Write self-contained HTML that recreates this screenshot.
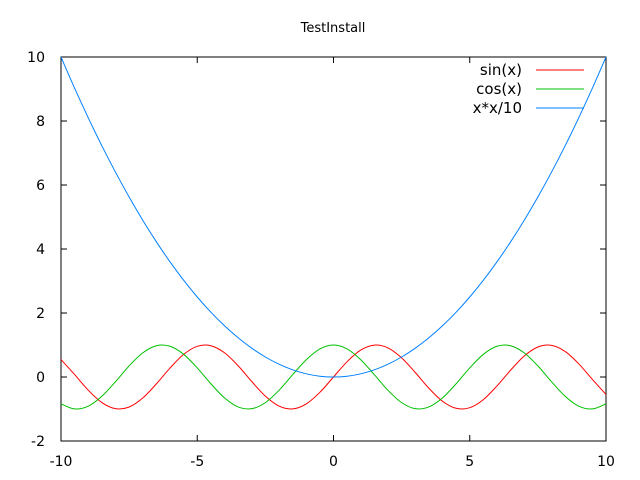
<!DOCTYPE html>
<html><head><meta charset="utf-8"><style>
body{margin:0;background:#fff}
svg{display:block;font-family:"DejaVu Sans","Liberation Sans",sans-serif}
</style></head><body>
<svg id="c" width="640" height="480"></svg>
<script>
const xValues=[-10,-9.5,-9,-8.5,-8,-7.5,-7,-6.5,-6,-5.5,-5,-4.5,-4,-3.5,-3,-2.5,-2,-1.5,-1,-0.5,0,0.5,1,1.5,2,2.5,3,3.5,4,4.5,5,5.5,6,6.5,7,7.5,8,8.5,9,9.5,10];
const sinValues=[0.544,0.075,-0.412,-0.798,-0.989,-0.938,-0.657,-0.215,0.279,0.706,0.959,0.978,0.757,0.351,-0.141,-0.598,-0.909,-0.997,-0.841,-0.479,0,0.479,0.841,0.997,0.909,0.598,0.141,-0.351,-0.757,-0.978,-0.959,-0.706,-0.279,0.215,0.657,0.938,0.989,0.798,0.412,-0.075,-0.544];
const cosValues=[-0.839,-0.997,-0.911,-0.602,-0.146,0.347,0.754,0.977,0.960,0.709,0.284,-0.211,-0.654,-0.936,-0.990,-0.801,-0.416,0.071,0.540,0.878,1,0.878,0.540,0.071,-0.416,-0.801,-0.990,-0.936,-0.654,-0.211,0.284,0.709,0.960,0.977,0.754,0.347,-0.146,-0.602,-0.911,-0.997,-0.839];
const sqValues=[10,9.025,8.1,7.225,6.4,5.625,4.9,4.225,3.6,3.025,2.5,2.025,1.6,1.225,0.9,0.625,0.4,0.225,0.1,0.025,0,0.025,0.1,0.225,0.4,0.625,0.9,1.225,1.6,2.025,2.5,3.025,3.6,4.225,4.9,5.625,6.4,7.225,8.1,9.025,10];
const xTicks=[-10,-5,0,5,10];
const yTicks=[-2,0,2,4,6,8,10];
const seriesNames=["sin(x)","cos(x)","x*x/10"];
const L=61,R=606,T=57,B=441;
const sx=v=>L+(v+10)/20*(R-L);
const sy=v=>B-(v+2)/12*(B-T);
const svg=document.getElementById('c');
const NS='http://www.w3.org/2000/svg';
function mk(t,a,p){const e=document.createElementNS(NS,t);for(const k in a)e.setAttribute(k,a[k]);(p||svg).appendChild(e);return e;}
let e=mk('text',{x:333,y:32,'text-anchor':'middle','font-size':13});e.textContent='TestInstall';


e=mk('rect',{x:L,y:T,width:R-L,height:B-T,fill:'none',stroke:'#000','stroke-width':1});


xTicks.forEach(v=>{const x=sx(v);
 mk('line',{x1:x,y1:B,x2:x,y2:B-6,stroke:'#000'});mk('line',{x1:x,y1:T,x2:x,y2:T+6,stroke:'#000'});
 const t=mk('text',{x:x,y:466,'text-anchor':'middle','font-size':14});t.textContent=v;
 
 });
yTicks.forEach(v=>{const y=sy(v);
 mk('line',{x1:L,y1:y,x2:L+6,y2:y,stroke:'#000'});mk('line',{x1:R,y1:y,x2:R-6,y2:y,stroke:'#000'});
 const t=mk('text',{x:45,y:y+5,'text-anchor':'end','font-size':14});t.textContent=v;
 
 });
function path(vals){const p=xValues.map((x,i)=>[sx(x),sy(vals[i])]);let d='M'+p[0][0]+','+p[0][1];
 for(let i=0;i<p.length-1;i++){const p0=p[Math.max(0,i-1)],p1=p[i],p2=p[i+1],p3=p[Math.min(p.length-1,i+2)];
 d+=' C'+(p1[0]+(p2[0]-p0[0])/6)+','+(p1[1]+(p2[1]-p0[1])/6)+' '+(p2[0]-(p3[0]-p1[0])/6)+','+(p2[1]-(p3[1]-p1[1])/6)+' '+p2[0]+','+p2[1];}return d;}
const series=[[sinValues,'#ff0000','sin-line'],[cosValues,'#00c000','cos-line'],[sqValues,'#0080ff','quadratic-line']];
series.forEach((s,i)=>{const p=mk('path',{d:path(s[0]),fill:'none',stroke:s[1],'stroke-width':1});
 
 
 const y=70+i*19;
 const t=mk('text',{x:522,y:y+5,'text-anchor':'end','font-size':15});t.textContent=seriesNames[i];
 
 
 const l=mk('line',{x1:536,y1:y,x2:584,y2:y,stroke:s[1]});
 
 });
</script>
</body></html>
